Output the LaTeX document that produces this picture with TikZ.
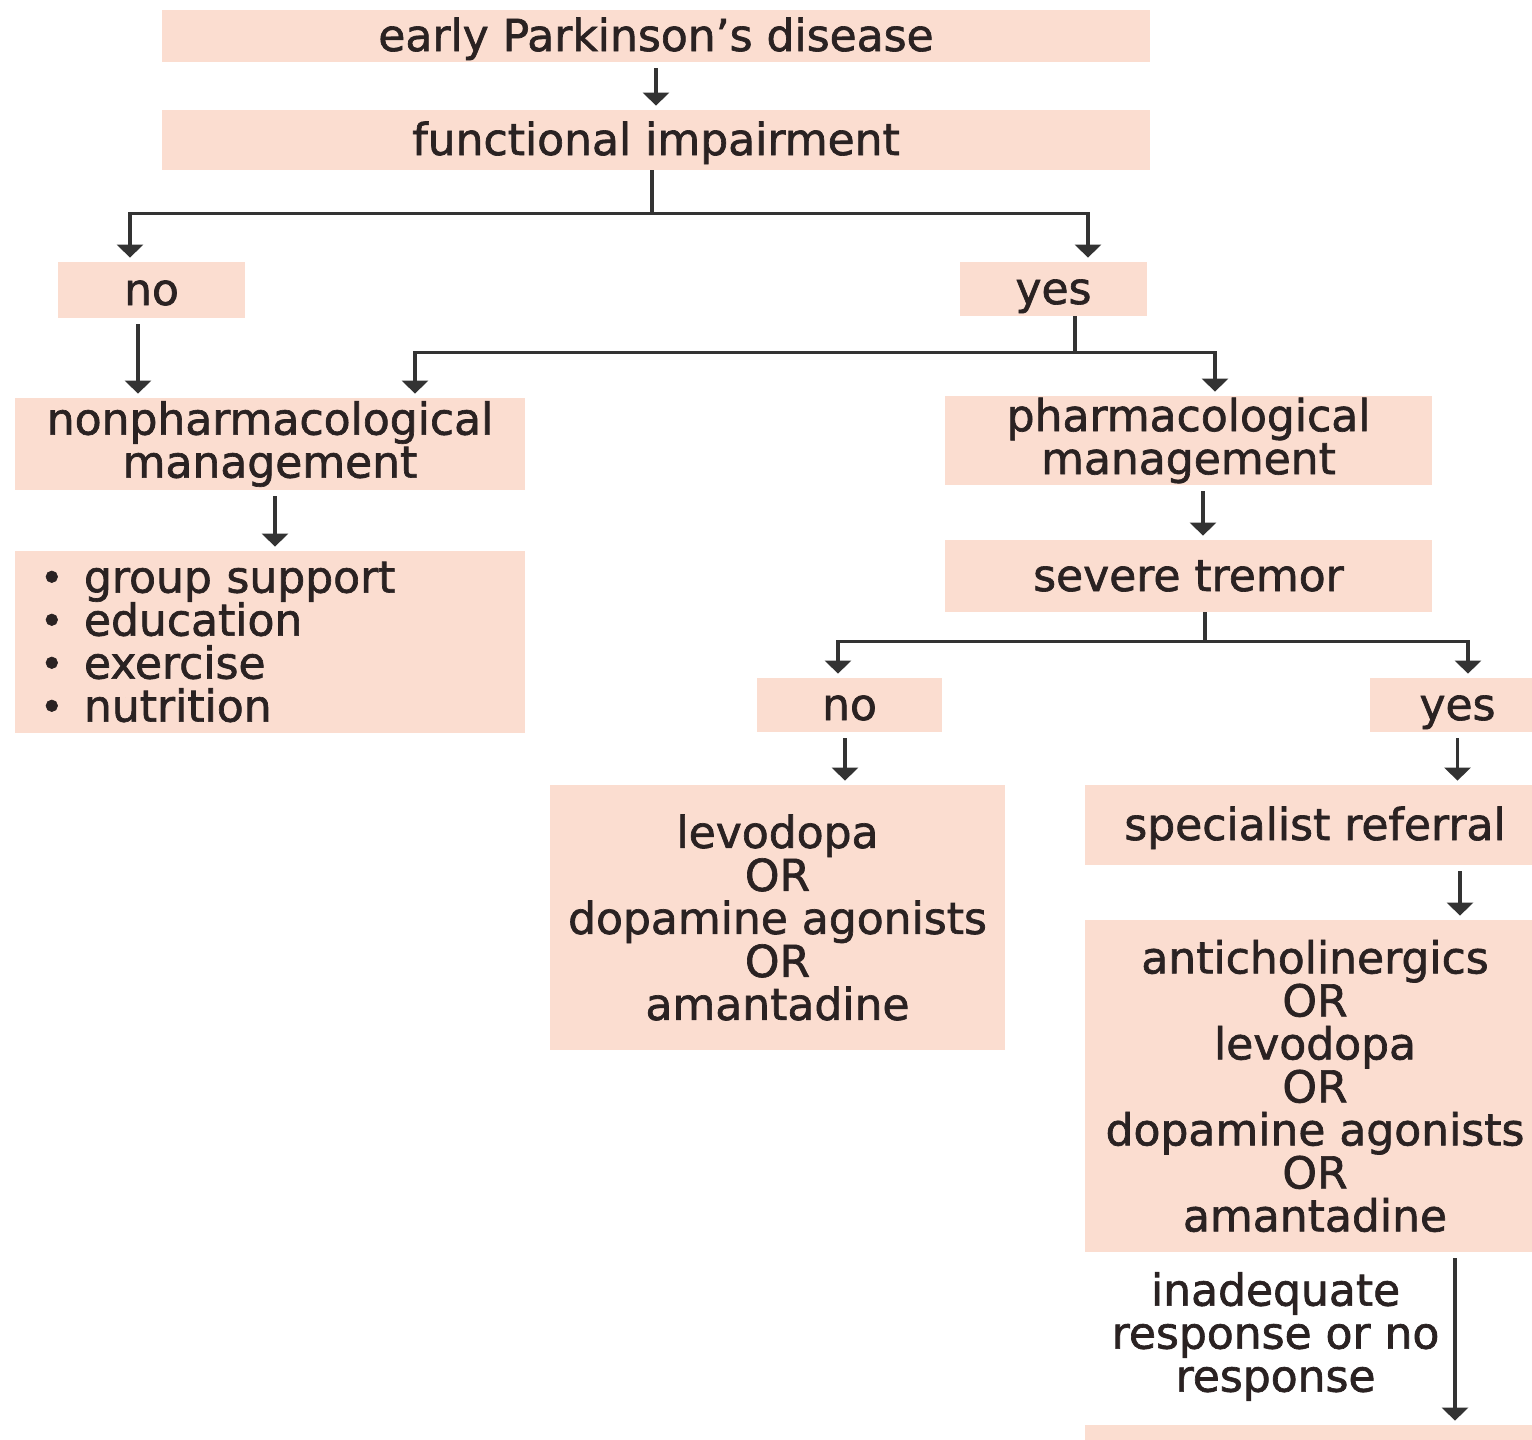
\documentclass[tikz,border=0pt]{standalone}
\usepackage{fontspec}
\setmainfont{DejaVu Sans}[BoldFont={DejaVu Sans}, BoldFeatures={FakeBold=1.5}]
\usetikzlibrary{arrows.meta,calc}
\definecolor{boxfill}{HTML}{FBDDD0}
\definecolor{ink}{HTML}{2A2222}
\definecolor{lin}{HTML}{333333}
\begin{document}
\begin{tikzpicture}[x=0.5pt,y=-0.5pt,
  box/.style={fill=boxfill, inner sep=0pt, text=ink, align=center, font=\fontsize{22}{21.5}\selectfont\bfseries},
  one/.style={text height=17.5pt, text depth=2.5pt},
  arr/.style={draw=lin, line width=1.6pt, -{Triangle[width=13pt,length=6.5pt]}, shorten <=3pt, shorten >=2pt},
  ln/.style={draw=lin, line width=1.6pt},
  lbl/.style={text=ink, align=center, inner sep=0pt, font=\fontsize{22}{21.5}\selectfont\bfseries}]
\useasboundingbox (0,0) rectangle (1532,1440);
\fill[white] (0,0) rectangle (1532,1440);

\node[box, one, minimum width=494pt, minimum height=26pt] (top) at (656,36) {early Parkinson's disease};
\node[box, one, minimum width=494pt, minimum height=30pt] (func) at (656,140) {functional impairment};
\node[box, one, minimum width=93.5pt, minimum height=28pt] (no1) at (151.5,290) {no};
\node[box, one, minimum width=93.5pt, minimum height=27pt] (yes1) at (1053.5,289) {yes};
\node[box, minimum width=255pt, minimum height=46pt] (nonph) at (270,444) {nonpharmacological\\management};
\node[box, minimum width=243.5pt, minimum height=44.5pt] (pharm) at (1188.5,440.5) {pharmacological\\management};
\node[box, minimum height=91pt, text width=230pt, inner xsep=12.5pt, align=left] (list) at (270,642)
  {\makebox[22pt][l]{\fontsize{20}{20}\selectfont\raisebox{0.5pt}{•}}group support\\
   \makebox[22pt][l]{\fontsize{20}{20}\selectfont\raisebox{0.5pt}{•}}education\\
   \makebox[22pt][l]{\fontsize{20}{20}\selectfont\raisebox{0.5pt}{•}}exercise\\
   \makebox[22pt][l]{\fontsize{20}{20}\selectfont\raisebox{0.5pt}{•}}nutrition};
\node[box, one, minimum width=243.5pt, minimum height=36pt] (sev) at (1188.5,576) {severe tremor};
\node[box, one, minimum width=92.5pt, minimum height=27pt] (no2) at (849.5,705) {no};
\node[box, one, minimum width=87.5pt, minimum height=27pt] (yes2) at (1457.5,705) {yes};
\node[box, minimum width=227.5pt, minimum height=132.5pt] (levo) at (777.5,917.5)
  {levodopa\\OR\\dopamine agonists\\OR\\amantadine};
\node[box, one, minimum width=230pt, minimum height=40pt] (spec) at (1315,825) {specialist referral};
\node[box, minimum width=230pt, minimum height=166pt] (anti) at (1315,1086)
  {anticholinergics\\OR\\levodopa\\OR\\dopamine agonists\\OR\\amantadine};
\node[box, minimum width=230pt, minimum height=20pt] (last) at (1315,1445) {};

% connectors
\draw[arr] (top) -- (func);
\draw[ln] ($(func.south)+(-4,0)$) -- ++(0,43) coordinate (j1);
\draw[arr, shorten <=0pt] (j1) -| ($(no1.north)+(-21.5,0)$);
\draw[arr, shorten <=0pt] (j1) -| ($(yes1.north)+(34.5,0)$);

\coordinate (p1) at ($(no1.south)+(-13.5,0)$);
\draw[arr] (p1) -- (p1 |- nonph.north);

\draw[ln] ($(yes1.south)+(21.5,0)$) -- ++(0,36) coordinate (j2);
\draw[arr, shorten <=0pt] (j2) -| ($(nonph.north)+(145,0)$);
\draw[arr, shorten <=0pt] (j2) -| ($(pharm.north)+(26.5,0)$);

\draw[arr] ($(nonph.south)+(5,0)$) -- ($(list.north)+(5,0)$);
\draw[arr] ($(pharm.south)+(14.5,0)$) -- ($(sev.north)+(14.5,0)$);

\draw[ln] ($(sev.south)+(16.5,0)$) -- ++(0,29) coordinate (j3);
\draw[arr, shorten <=0pt] (j3) -| ($(no2.north)+(-11.5,0)$);
\draw[arr, shorten <=0pt] (j3) -| ($(yes2.north)+(10.5,0)$);

\draw[arr] ($(no2.south)+(-4.5,0)$) -- ($(levo.north)+(67.5,0)$);
\draw[arr] (yes2.south) -- ($(spec.north)+(142.5,0)$);
\draw[arr] ($(spec.south)+(145,0)$) -- ($(anti.north)+(145,0)$);
\draw[arr] ($(anti.south)+(140,0)$) -- node[lbl, left, xshift=-7pt, yshift=1pt] {inadequate\\response or no\\response} ($(last.north)+(140,0)$);
\end{tikzpicture}
\end{document}
